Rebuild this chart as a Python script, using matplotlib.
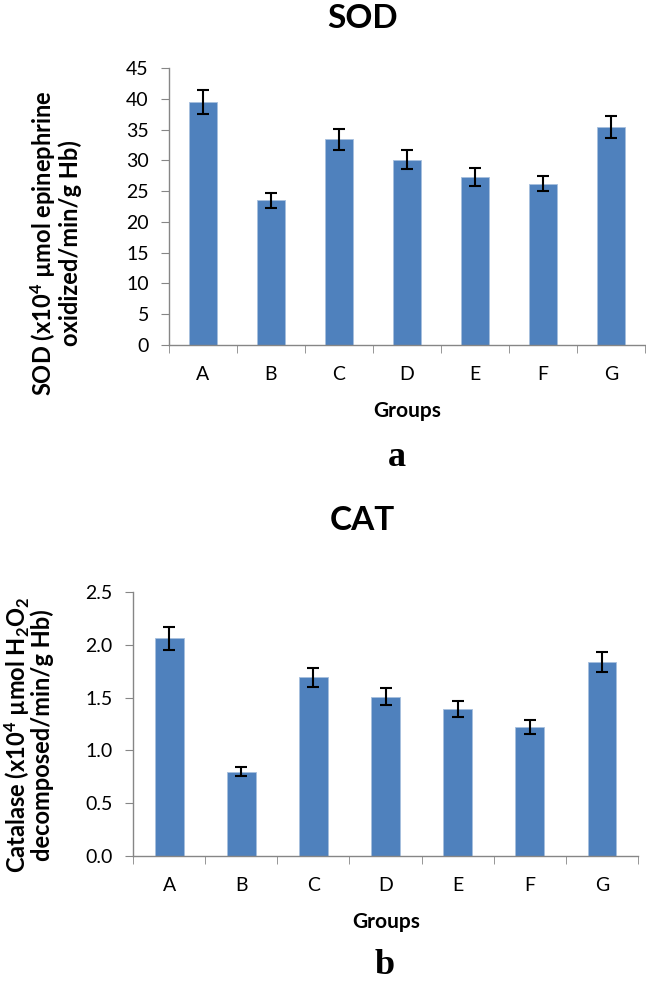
import numpy as np
import matplotlib
matplotlib.use("Agg")
import matplotlib.pyplot as plt

plt.rcParams["font.family"] = ["Lato", "DejaVu Sans"]
plt.rcParams["mathtext.default"] = "regular"

groups = ["A", "B", "C", "D", "E", "F", "G"]
sod = [39.5, 23.5, 33.4, 30.1, 27.3, 26.2, 35.4]
sod_err = [2.0, 1.2, 1.7, 1.5, 1.4, 1.25, 1.8]
cat = [2.06, 0.80, 1.695, 1.51, 1.39, 1.22, 1.84]
cat_err = [0.11, 0.04, 0.09, 0.08, 0.075, 0.065, 0.095]

bar_color = "#4F81BD"
axis_color = "#868686"
W, H = 646, 983

fig = plt.figure(figsize=(W / 100, H / 100), dpi=100)


def px(x, y):
    # pixel position (from top-left) -> figure fraction
    return x / W, 1 - y / H


def draw(ax, vals, errs, ymax, step, fmt):
    x = np.arange(len(groups))
    ax.bar(x, vals, width=0.4, color=bar_color, edgecolor="#A7BFDE", linewidth=0.6,
           yerr=errs, error_kw=dict(ecolor="black", elinewidth=1.5, capsize=4.5, capthick=1.5))
    ax.set_xlim(-0.5, len(groups) - 0.5)
    ax.set_ylim(0, ymax)
    ticks = np.arange(0, ymax + step / 2, step)
    ax.set_yticks(ticks)
    ax.set_yticklabels([fmt.format(v) for v in ticks])
    ax.set_xticks(x)
    ax.set_xticklabels(groups)
    ax.set_xticks(np.arange(-0.5, len(groups)), minor=True)
    ax.tick_params(axis="x", which="major", length=0, labelsize=14, pad=15)
    ax.tick_params(axis="x", which="minor", length=5.5, color=axis_color)
    ax.tick_params(axis="y", length=5.5, color=axis_color, labelsize=14, pad=9)
    for s in ["top", "right"]:
        ax.spines[s].set_visible(False)
    for s in ["left", "bottom"]:
        ax.spines[s].set_color(axis_color)
        ax.spines[s].set_linewidth(1.0)


# SOD panel
ax1 = fig.add_axes([169 / W, 1 - 345 / H, 476 / W, 277 / H])
draw(ax1, sod, sod_err, 45, 5, "{:.0f}")
fig.text(*px(363, 19), "SOD", ha="center", va="center", fontsize=24, fontweight="bold")
fig.text(*px(55, 243), "SOD (x10$^{4}$ µmol epinephrine\noxidized/min/g Hb)", rotation=90,
         ha="center", va="center", multialignment="center", fontsize=17,
         fontweight="bold", linespacing=1.0)
fig.text(*px(407, 411), "Groups", ha="center", va="center", fontsize=15, fontweight="bold")
fig.text(*px(397, 458), "a", ha="center", va="center", fontsize=26, fontweight="bold",
         family="Liberation Serif")

# CAT panel
ax2 = fig.add_axes([133 / W, 1 - 856 / H, 505 / W, 264 / H])
draw(ax2, cat, cat_err, 2.5, 0.5, "{:.1f}")
fig.text(*px(362, 521), "CAT", ha="center", va="center", fontsize=24, fontweight="bold")
fig.text(*px(28, 735), "Catalase (x10$^{4}$ µmol H$_{2}$O$_{2}$\ndecomposed/min/g Hb)", rotation=90,
         ha="center", va="center", multialignment="center", fontsize=17,
         fontweight="bold", linespacing=0.95)
fig.text(*px(386, 922), "Groups", ha="center", va="center", fontsize=15, fontweight="bold")
fig.text(*px(385, 965), "b", ha="center", va="center", fontsize=26, fontweight="bold",
         family="Liberation Serif")

fig.savefig("out.png", dpi=100)
